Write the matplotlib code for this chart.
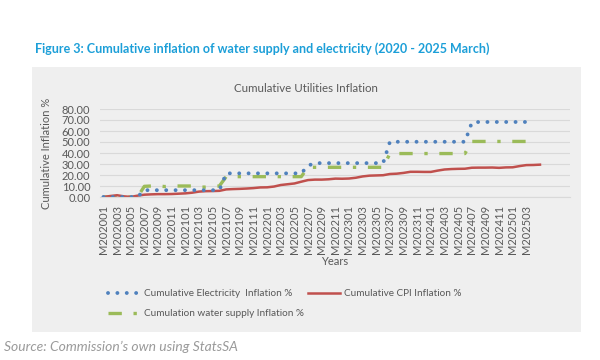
import matplotlib.pyplot as plt
from matplotlib.patches import Rectangle

# monthly categories M202001 .. M202505
months = [f"M{y}{m:02d}" for y in range(2020, 2026) for m in range(1, 13)][:65]
tick_idx = list(range(0, 63, 2))  # labels shown every second month up to M202503

electricity = [0, 0, 0, 0, 0, 0,
               6.2, 6.2, 6.2, 6.2, 6.2, 6.2, 6.2, 6.2, 6.2, 6.2, 6.2, 6.2,
               21.5, 21.5, 21.5, 21.5, 21.5, 21.5, 21.5, 21.5, 21.5, 21.5, 21.5, 21.5,
               28.5, 30.8, 30.8, 30.8, 30.8, 30.8, 30.8, 30.8, 30.8, 30.8, 30.8, 30.8,
               50.2, 50.2, 50.2, 50.2, 50.2, 50.2, 50.2, 50.2, 50.2, 50.2, 50.2, 50.2,
               67.5, 68.2, 68.2, 68.2, 68.2, 68.2, 68.2, 68.2, 68.2]

water = [0, 0, 0, 0, 0, 0,
         9.7, 10.0, 10.0, 9.5, 10.0, 10.0, 10.0, 10.0, 9.0, 9.0, 9.5, 10.0,
         18.5, 18.5, 18.5, 18.5, 18.5, 18.5, 18.5, 18.5, 18.5, 18.5, 18.5, 18.5,
         27.0, 27.0, 27.0, 27.0, 27.0, 27.0, 27.0, 27.0, 27.0, 27.0, 27.0, 27.0,
         39.5, 39.5, 39.5, 39.5, 39.5, 39.5, 39.5, 39.5, 39.5, 39.5, 39.5, 39.5,
         50.5, 50.5, 50.5, 50.5, 50.5, 50.5, 50.5, 50.5, 50.5]

cpi = [0.0, 0.9, 1.6, 0.6, 0.1, 1.2, 2.1, 2.4, 2.6, 2.6, 2.7, 3.0,
       3.3, 3.9, 4.9, 5.3, 5.4, 5.6, 6.9, 7.2, 7.4, 7.7, 8.1, 8.7,
       8.8, 9.5, 10.9, 11.6, 12.3, 13.9, 15.4, 15.8, 15.8, 16.1, 16.7, 16.6,
       16.8, 17.5, 18.7, 19.4, 19.6, 19.8, 20.9, 21.2, 21.9, 22.9, 22.9, 22.8,
       22.8, 24.0, 25.0, 25.4, 25.6, 25.7, 26.6, 26.7, 26.7, 26.8, 26.5, 26.9,
       27.0, 28.1, 29.0, 29.1, 29.4]

plt.rcParams['font.family'] = ['Lato', 'DejaVu Sans']
GREY_TXT = '#595959'

fig = plt.figure(figsize=(6, 3.6), dpi=100)
fig.patch.set_facecolor('white')

# grey chart area
fig.add_artist(Rectangle((32 / 600, 1 - 332 / 360), 549 / 600, 265 / 360,
                         transform=fig.transFigure, facecolor='#efefef',
                         edgecolor='none', zorder=0))

fig.text(35 / 600, 1 - 49 / 360,
         'Figure 3: Cumulative inflation of water supply and electricity (2020 - 2025 March)',
         color='#1c9fd8', fontsize=9, fontweight='bold', va='center')
fig.text(306 / 600, 1 - 88 / 360, 'Cumulative Utilities Inflation',
         color=GREY_TXT, fontsize=8.3, ha='center', va='center')
fig.text(4 / 600, 1 - 347 / 360, "Source: Commission\u2019s own using StatsSA",
         color='#9a9a9a', fontsize=10, style='italic', va='center')

ax = fig.add_axes([100 / 600, 1 - 197 / 360, 470 / 600, 88 / 360])
ax.set_facecolor('none')

ax.plot(range(len(electricity)), electricity, color='#4f81bd', lw=2.8,
        linestyle=(0, (0.01, 2.4)), dash_capstyle='round',
        label='Cumulative Electricity  Inflation %', zorder=3)
ax.plot(range(len(water)), water, color='#9bbb59', lw=2.4,
        linestyle=(0, (4, 3.5, 1, 3.5)), dash_capstyle='butt',
        label='Cumulation water supply Inflation %', zorder=2)
ax.plot(range(len(cpi)), cpi, color='#c0504d', lw=1.8,
        label='Cumulative CPI Inflation %', zorder=2)

ax.set_xlim(-0.5, 68.4)
ax.set_ylim(0, 80)
ax.set_yticks(range(0, 90, 10))
ax.set_yticklabels([f'{v:.2f}' for v in range(0, 90, 10)])
ax.set_xticks(tick_idx)
ax.set_xticklabels([months[i] for i in tick_idx], rotation=90)
ax.tick_params(length=0, colors=GREY_TXT)
ax.tick_params(axis='y', pad=7, labelsize=8)
ax.tick_params(axis='x', pad=5.5, labelsize=8)
ax.yaxis.grid(True, color='#d9d9d9', lw=0.8)
ax.set_axisbelow(True)
for s in ['top', 'right', 'left']:
    ax.spines[s].set_visible(False)
ax.spines['bottom'].set_color('#d9d9d9')

ax.set_ylabel('Cumulative Inflation %', color=GREY_TXT, fontsize=8)
ax.yaxis.set_label_coords(-0.102, 0.5)
ax.set_xlabel('Years', color=GREY_TXT, fontsize=8)
ax.xaxis.set_label_coords(0.5, -0.67)

h, l = ax.get_legend_handles_labels()
fig.legend(h, l, ncol=2,
           loc='upper left', bbox_to_anchor=(108 / 600, 1 - 289 / 360),
           frameon=False, fontsize=7.2, labelcolor=GREY_TXT,
           handlelength=3.2, handletextpad=0.45, columnspacing=0.3,
           labelspacing=1.15, borderpad=0, borderaxespad=0)

fig.savefig('out.png', dpi=100)
